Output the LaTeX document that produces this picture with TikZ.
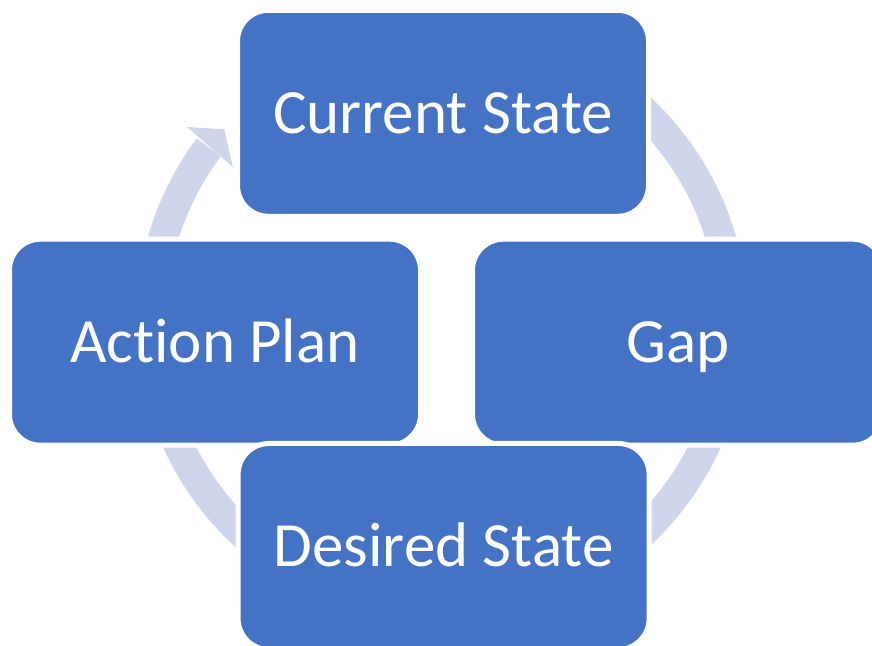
\documentclass[tikz,border=0pt]{standalone}
\usepackage{fontspec}
\setmainfont{Carlito}[Ligatures={NoCommon,NoContextual}]
\usepackage{xcolor}
\usepackage{tikz}
\usetikzlibrary{calc}
\definecolor{boxblue}{HTML}{4472C4}
\definecolor{ringblue}{HTML}{CFD5EA}

\begin{document}
\begin{tikzpicture}[x=1pt,y=1pt,
    stage/.style={rectangle, rounded corners=31pt, fill=boxblue, draw=white, line width=5pt,
      minimum width=411pt, minimum height=206pt, text=white, text height=40pt, text depth=0pt,
      font=\fontsize{63}{75}\selectfont},
    ring/.style={draw=ringblue, line width=30pt}]
    \useasboundingbox (0,0) rectangle (872,645);
    \coordinate (c) at (442,323.7);
    % cycle arrow behind the boxes
    \draw [ring] (c) ++(100:291) arc[start angle=100, end angle=-216.7, radius=291];
    \fill [ringblue] ($(c)+(143.6:259.8)$) -- ($(c)+(142.7:320.6)$) -- ($(c)+(138.6:290.3)$) -- cycle;
    % stages
    \node [stage] (current) at (443,531.7) {Current State};
    \node [stage] (action)  at (215,302.8) {Act\kern0pt ion Plan};
    \node [stage] (gap)     at (678,302.8) {Gap};
    \node [stage] (desired) at (443.6,98.5) {Desired State};
\end{tikzpicture}
\end{document}
